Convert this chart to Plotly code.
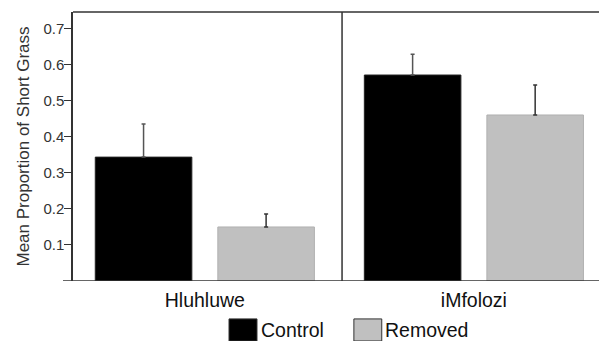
import plotly.graph_objects as go

sites = ["Hluhluwe", "iMfolozi"]
control = [0.344, 0.572]
control_err = [0.092, 0.058]
removed = [0.150, 0.461]
removed_err = [0.036, 0.083]
y_ticks = [0.1, 0.2, 0.3, 0.4, 0.5, 0.6, 0.7]
y_tick_labels = ["0.1", "0.2", "0.3", "0.4", "0.5", "0.6", "0.7"]
series_names = ["Control", "Removed"]

FONT = "Liberation Sans, Arial, sans-serif"

fig = go.Figure()
fig.add_trace(go.Bar(
    x=sites, y=control, name=series_names[0],
    marker=dict(color="#000000", line=dict(color="#222222", width=1)),
    error_y=dict(type="data", array=control_err, arrayminus=[0, 0], symmetric=False,
                 color="#555555", thickness=1.5, width=2),
))
fig.add_trace(go.Bar(
    x=sites, y=removed, name=series_names[1],
    marker=dict(color="#c0c0c0", line=dict(color="#b0b0b0", width=1)),
    error_y=dict(type="data", array=removed_err, arrayminus=[0, 0], symmetric=False,
                 color="#333333", thickness=1.5, width=2),
))

line_col = "#333333"
fig.add_shape(type="line", xref="paper", yref="y", x0=-0.019, x1=1, y0=0, y1=0,
              line=dict(color=line_col, width=1.5))
fig.add_shape(type="line", xref="paper", yref="paper", x0=0, x1=1, y0=1, y1=1,
              line=dict(color=line_col, width=1.5))
fig.add_shape(type="line", xref="x", yref="paper", x0=0.51, x1=0.51, y0=0, y1=1,
              line=dict(color=line_col, width=1.5))

# legend (custom)
leg_y0, leg_y1 = -0.141, -0.223
for x0, x1, col, tx, name in [(0.2966, 0.3498, "#000000", 0.353, series_names[0]),
                              (0.534, 0.587, "#c0c0c0", 0.59, series_names[1])]:
    fig.add_shape(type="rect", xref="paper", yref="paper", x0=x0, x1=x1, y0=leg_y0, y1=leg_y1,
                  fillcolor=col, line=dict(color="#333333", width=1))
    fig.add_annotation(xref="paper", yref="paper", x=tx, y=(leg_y0 + leg_y1) / 2,
                       text=name, showarrow=False, xanchor="left", yanchor="middle",
                       font=dict(family=FONT, size=19.5, color="#111111"))

fig.update_layout(
    width=599, height=341,
    margin=dict(l=73, r=0, t=12, b=60, autoexpand=False),
    paper_bgcolor="white", plot_bgcolor="white",
    barmode="group", bargap=0.089, bargroupgap=0.212,
    showlegend=False,
    font=dict(family=FONT, color="#222222"),
    xaxis=dict(range=[-0.49, 1.465], showline=False, ticks="", showgrid=False,
               tickfont=dict(family=FONT, size=19.5, color="#111111"), ticklabelstandoff=5),
    yaxis=dict(range=[0, 0.747], tickvals=y_ticks, ticktext=y_tick_labels,
               showline=True, linecolor=line_col, linewidth=1.5,
               ticks="outside", ticklen=7, tickcolor=line_col, tickwidth=1,
               showgrid=False, zeroline=False, ticklabelstandoff=-3,
               tickfont=dict(family=FONT, size=15, color="#333333"),
               title=dict(text="Mean Proportion of Short Grass", standoff=9,
                          font=dict(family=FONT, size=17, color="#333333"))),
)

fig.write_html("out.html", config={"displayModeBar": False},
               post_script="document.body.style.margin='0px';")
